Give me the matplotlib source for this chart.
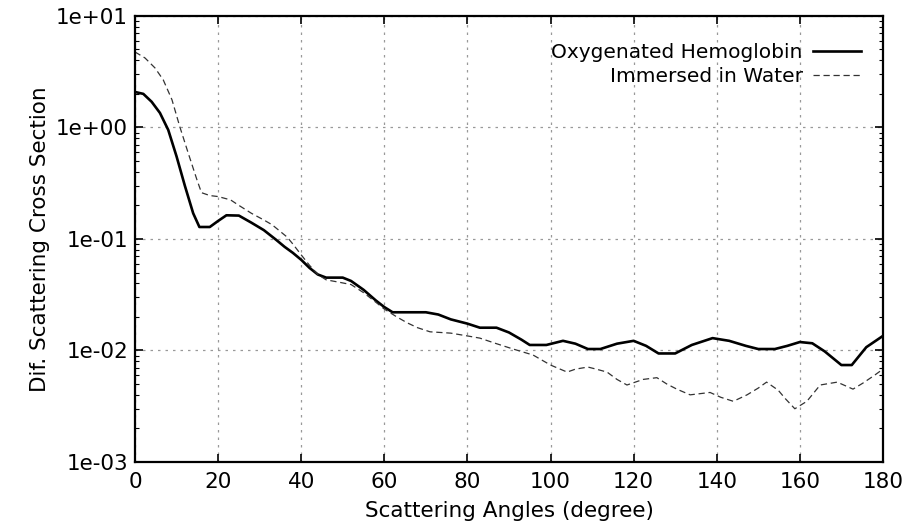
import matplotlib
matplotlib.use('Agg')
import matplotlib.pyplot as plt
import numpy as np
from matplotlib.ticker import FixedLocator, LogLocator, NullFormatter

plt.rcParams['font.family'] = ['DejaVu Sans']

# Oxygenated hemoglobin (solid)
angHb = [0, 2, 4, 6, 8, 10, 12, 14, 15.5, 18, 20, 22, 25, 28, 31, 34, 36, 38, 40, 42,
         44, 46, 50, 52, 55, 58, 60, 62, 66, 70, 73, 76, 80, 83, 87, 90, 93, 95, 99,
         103, 106, 109, 112, 116, 120, 123, 126, 130, 134, 139, 143, 147, 150, 154,
         157, 160, 163, 166, 170, 172.5, 176, 180]
valHb = [2.08, 2.0, 1.7, 1.35, 0.95, 0.55, 0.30, 0.17, 0.128, 0.128, 0.145, 0.163,
         0.162, 0.14, 0.12, 0.098, 0.085, 0.075, 0.065, 0.055, 0.048, 0.045, 0.045,
         0.042, 0.035, 0.028, 0.0245, 0.022, 0.022, 0.022, 0.021, 0.019, 0.0174,
         0.016, 0.016, 0.0145, 0.0125, 0.0112, 0.0112, 0.0122, 0.0115, 0.0103,
         0.0103, 0.0115, 0.0122, 0.011, 0.0094, 0.0094, 0.0112, 0.0129, 0.0122,
         0.011, 0.0103, 0.0103, 0.011, 0.0119, 0.0116, 0.0098, 0.0074, 0.0074,
         0.0107, 0.0135]

# Immersed in water (dashed)
angW = [0, 2.4, 4.8, 6.8, 8.9, 10.8, 12.8, 14.9, 16, 18, 20, 23, 25, 28, 31, 33,
        36.6, 38, 40, 42, 44, 46, 49, 52, 55, 58, 60, 63, 65.5, 68, 71, 76, 80, 83,
        87, 91, 95.8, 100, 104, 106, 109, 111, 113.6, 116, 118.4, 122.3, 125.6, 128,
        130.4, 133.6, 138.4, 141, 144, 147.3, 150, 152, 154.8, 156.5, 158.8, 161.7,
        164.9, 169, 172.8, 175.2, 178, 180]
valW = [4.75, 4.2, 3.42, 2.67, 1.77, 1.01, 0.59, 0.34, 0.26, 0.245, 0.24, 0.224, 0.2,
        0.17, 0.148, 0.134, 0.104, 0.09, 0.072, 0.058, 0.048, 0.043, 0.041, 0.039,
        0.033, 0.027, 0.0235, 0.02, 0.0177, 0.016, 0.0147, 0.0143, 0.0135, 0.0129,
        0.0115, 0.0103, 0.0091, 0.0074, 0.0064, 0.0068, 0.0071, 0.0068, 0.0064,
        0.0055, 0.0049, 0.0055, 0.0057, 0.005, 0.0045, 0.004, 0.0042, 0.0038,
        0.0035, 0.004, 0.0046, 0.0052, 0.0044, 0.0037, 0.003, 0.0035, 0.0049,
        0.0052, 0.0045, 0.0051, 0.006, 0.0068]

yTicks = [1e-3, 1e-2, 1e-1, 1e0, 1e1]
yLabels = ['1e-03', '1e-02', '1e-01', '1e+00', '1e+01']
xTicks = [0, 20, 40, 60, 80, 100, 120, 140, 160, 180]

fig = plt.figure(figsize=(9.14, 5.31), dpi=100)
ax = fig.add_axes([0.1477, 0.130, 0.8183, 0.840])

ax.plot(angHb, valHb, color='black', lw=1.9, label='Oxygenated Hemoglobin')
ax.plot(angW, valW, color='#333333', lw=0.9, linestyle=(0, (5, 3)),
        label='Immersed in Water')

ax.set_yscale('log')
ax.set_xlim(0, 180)
ax.set_ylim(1e-3, 1e1)
ax.set_xticks(xTicks)
ax.set_yticks(yTicks)
ax.set_yticklabels(yLabels)
ax.yaxis.set_minor_locator(LogLocator(base=10, subs=np.arange(2, 10)))
ax.yaxis.set_minor_formatter(NullFormatter())

ax.tick_params(axis='both', which='both', direction='in', top=True, right=True,
               labelsize=15.5)
ax.tick_params(which='major', length=6, width=1.2)
ax.tick_params(which='minor', length=3, width=0.8)
ax.tick_params(axis='x', pad=7)
ax.tick_params(axis='y', pad=5)

for sp in ax.spines.values():
    sp.set_linewidth(1.6)

ax.grid(True, which='major', color='#999999', linestyle=(0, (2, 4)), lw=0.9)

ax.set_xlabel('Scattering Angles (degree)', fontsize=15.5, labelpad=7)
ax.set_ylabel('Dif. Scattering Cross Section', fontsize=15.5, labelpad=4)

ax.legend(loc='upper right', bbox_to_anchor=(0.995, 0.98), frameon=False,
          markerfirst=False, fontsize=14.5, handlelength=2.4, labelspacing=0.25,
          handletextpad=0.5)

fig.savefig('out.png', dpi=100)
